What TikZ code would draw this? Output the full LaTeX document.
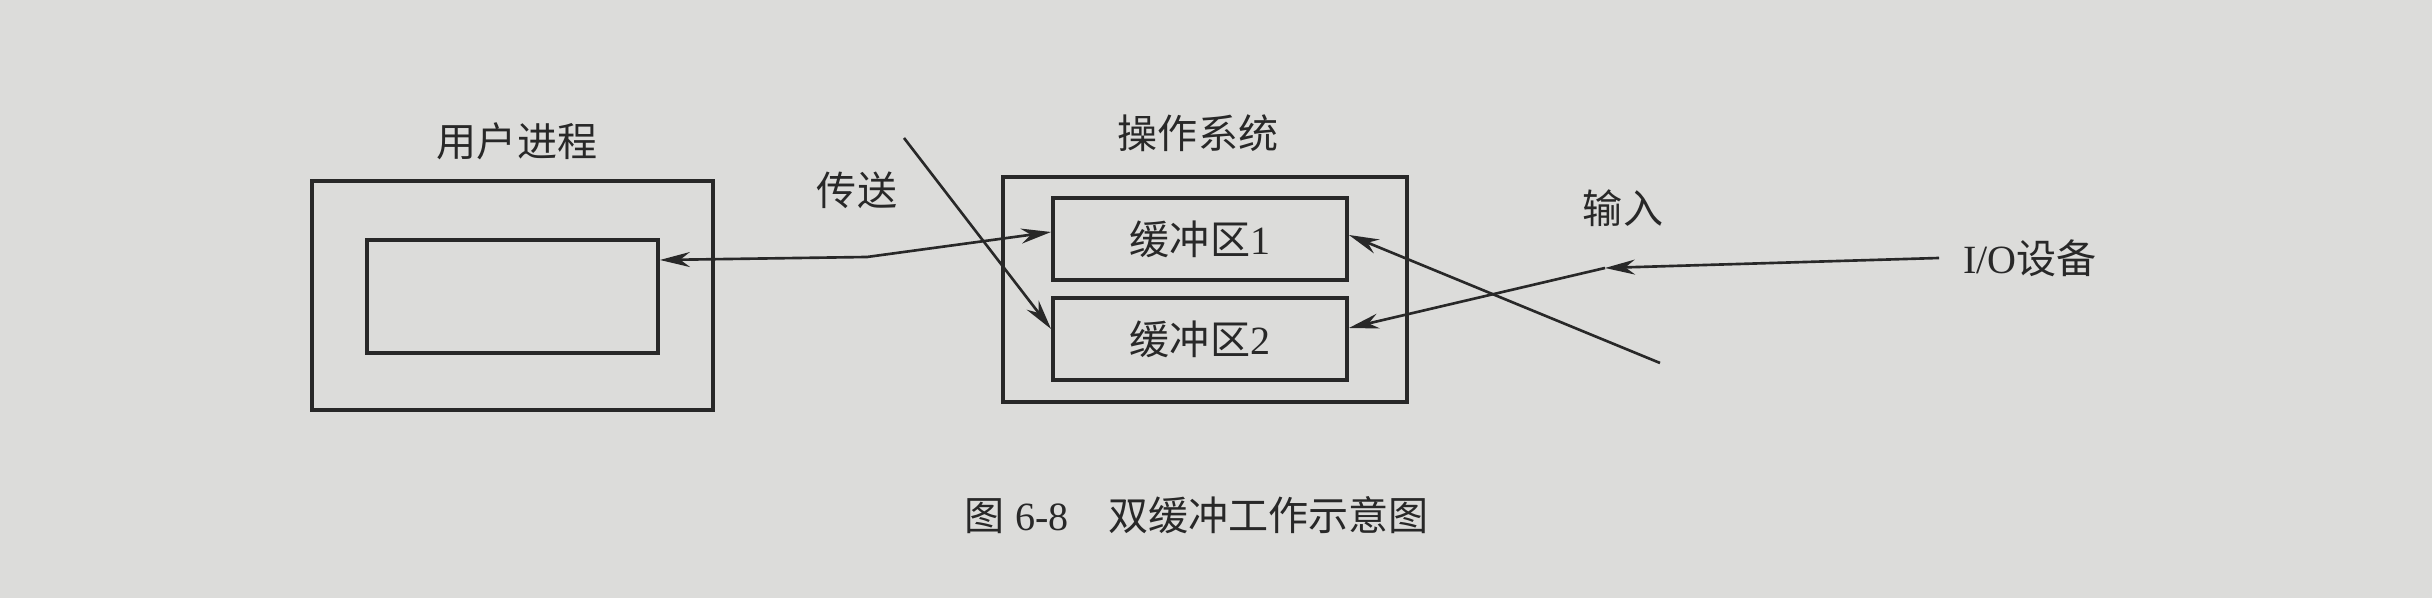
\documentclass[tikz,border=0pt]{standalone}
\usepackage{fontspec}
\setmainfont{Liberation Serif}
\newfontfamily\cjk{Noto Sans CJK SC}
\usepackage{xcolor}
\usetikzlibrary{arrows.meta}
\definecolor{paper}{RGB}{220,220,218}
\definecolor{ink}{RGB}{40,40,40}
\tikzstyle{arr}=[-{Stealth[length=3mm,width=1.5mm]},draw=ink,line width=0.75pt]

\begin{document}
\begin{tikzpicture}[font=\fontsize{11.4pt}{13pt}\selectfont,text=ink]
  \tikzstyle boxS=[draw=ink,line width=1.1pt,inner sep=0pt];
  \tikzstyle bufS=[boxS,minimum width=2.94cm,minimum height=0.82cm];
  \tikzstyle labelS=[inner sep=1pt];
  \fill[paper] (0,0) rectangle (24.32,5.98);
  \useasboundingbox (0,0) rectangle (24.32,5.98);
  % user process
  \node[boxS,minimum width=4.01cm,minimum height=2.29cm] (uout) at (5.125,3.025) {};
  \node[boxS,minimum width=2.91cm,minimum height=1.13cm] (uin) at (5.125,3.015) {};
  \node[labelS] (ulab) at (5.17,4.57) {\cjk 用户进程};
  % operating system
  \node[boxS,minimum width=4.04cm,minimum height=2.25cm] (os) at (12.05,3.085) {};
  \node[labelS] (oslab) at (11.98,4.65) {\cjk 操作系统};
  \foreach \bn/\by/\bt in {buf1/3.59/1, buf2/2.59/2}
    \node[bufS] (\bn) at (12.00,\by) {{\cjk 缓冲区}\bt};
  % labels
  \node[labelS] (send) at (8.57,4.08) {\cjk 传送};
  \node[labelS] (input) at (16.23,3.90) {\cjk 输入};
  \node[labelS] (io) at (20.30,3.40) {I/O{\cjk 设备}};
  \node[labelS] (cap) at (11.97,0.83) {{\cjk 图} 6-8\quad{\cjk 双缓冲工作示意图}};
  % connectors
  \coordinate (k1) at (8.67,3.41);
  \coordinate (s0) at (9.04,4.60);
  \coordinate (i0) at (16.60,2.35);
  \coordinate (k2) at (16.05,3.30);
  \draw[arr] (k1) -- ([yshift=3.65mm]uin.east);
  \draw[arr] (k1) -- ([yshift=0.7mm]buf1.west);
  \draw[arr] (s0) -- ([yshift=1mm]buf2.west);
  \draw[arr] (i0) -- ([yshift=0.4mm]buf1.east);
  \draw[arr] ([xshift=-2mm]io.west) -- (k2);
  \draw[arr] (k2) -- ([yshift=1.1mm]buf2.east);
\end{tikzpicture}
\end{document}
